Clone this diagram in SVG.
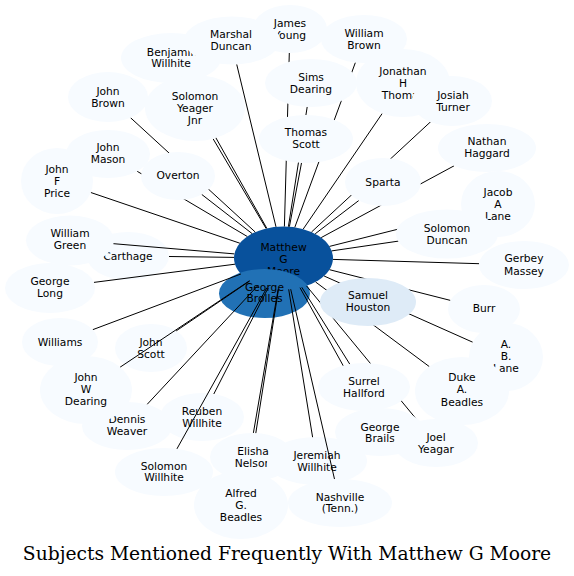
<svg xmlns="http://www.w3.org/2000/svg" width="574" height="576" viewBox="0 0 574 576">
<style>
.n{fill:#f7fbff;stroke:none}
.t{font-family:"DejaVu Sans",sans-serif;font-size:10.7px;fill:#000;text-anchor:middle}
.e line{stroke:#000;stroke-width:1}
.title{font-family:"DejaVu Serif",serif;font-size:18.7px;fill:#000;text-anchor:middle}
</style>
<rect width="574" height="576" fill="#fff"/>
<g id="n-matthew"><ellipse cx="283.5" cy="258" rx="49.5" ry="31.5" fill="#08519c"/><text class="t" x="283.5" y="251">Matthew</text><text class="t" x="283.5" y="263">G</text><text class="t" x="283.5" y="275">Moore</text></g>
<g id="n-george-brolles"><ellipse cx="264.5" cy="293.5" rx="45.5" ry="24.5" fill="#2171b5"/><text class="t" x="264.5" y="291">George</text><text class="t" x="264.5" y="302">Brolles</text></g>
<g id="n-carthage"><ellipse class="n" cx="128" cy="256" rx="41" ry="24"/><text class="t" x="128" y="260">Carthage</text></g>
<g id="n-john-scott"><ellipse class="n" cx="151" cy="348" rx="36" ry="24"/><text class="t" x="151" y="346">John</text><text class="t" x="151" y="358">Scott</text></g>
<g id="n-reuben-willhite"><ellipse class="n" cx="202" cy="417" rx="42" ry="24"/><text class="t" x="202" y="415">Reuben</text><text class="t" x="202" y="427">Willhite</text></g>
<g id="n-elisha-nelson"><ellipse class="n" cx="252" cy="457" rx="42" ry="24"/><text class="t" x="253" y="455">Elisha</text><text class="t" x="253" y="467">Nelson</text></g>
<g id="n-jeremiah-willhite"><ellipse class="n" cx="317" cy="461" rx="50" ry="24"/><text class="t" x="317" y="459">Jeremiah</text><text class="t" x="317" y="471">Willhite</text></g>
<g id="edges" class="e">
<line x1="284.4" y1="226.5" x2="289.3" y2="53.0"/>
<line x1="276.0" y1="226.9" x2="236.7" y2="64.3"/>
<line x1="294.8" y1="227.3" x2="355.4" y2="62.5"/>
<line x1="266.8" y1="228.3" x2="184.5" y2="82.1"/>
<line x1="288.4" y1="226.7" x2="307.2" y2="106.9"/>
<line x1="303.2" y1="229.1" x2="382.2" y2="113.5"/>
<line x1="266.1" y1="228.5" x2="213.1" y2="138.8"/>
<line x1="255.3" y1="232.1" x2="130.5" y2="117.7"/>
<line x1="311.5" y1="232.0" x2="431.0" y2="121.4"/>
<line x1="289.4" y1="226.7" x2="301.5" y2="162.9"/>
<line x1="321.2" y1="237.6" x2="454.1" y2="165.8"/>
<line x1="247.3" y1="236.5" x2="137.2" y2="171.3"/>
<line x1="252.1" y1="233.6" x2="201.7" y2="194.4"/>
<line x1="315.2" y1="233.8" x2="358.8" y2="200.5"/>
<line x1="239.8" y1="243.2" x2="90.8" y2="192.5"/>
<line x1="329.5" y1="246.4" x2="462.4" y2="213.0"/>
<line x1="331.7" y1="250.9" x2="398.5" y2="241.1"/>
<line x1="234.4" y1="253.9" x2="112.5" y2="243.6"/>
<line x1="234.0" y1="257.4" x2="169.0" y2="256.5"/>
<line x1="332.9" y1="259.4" x2="479.1" y2="263.7"/>
<line x1="235.0" y1="264.2" x2="93.9" y2="282.4"/>
<line x1="329.5" y1="269.7" x2="450.4" y2="300.4"/>
<line x1="240.9" y1="274.0" x2="92.7" y2="329.7"/>
<line x1="249.7" y1="281.0" x2="176.2" y2="330.9"/>
<line x1="324.1" y1="276.0" x2="472.7" y2="342.2"/>
<line x1="249.4" y1="280.8" x2="120.1" y2="367.2"/>
<line x1="301.8" y1="287.3" x2="349.8" y2="364.2"/>
<line x1="315.6" y1="282.0" x2="429.3" y2="366.6"/>
<line x1="268.1" y1="288.0" x2="213.8" y2="394.0"/>
<line x1="258.3" y1="285.1" x2="147.0" y2="404.5"/>
<line x1="300.0" y1="287.7" x2="367.2" y2="409.0"/>
<line x1="306.5" y1="285.9" x2="418.1" y2="421.3"/>
<line x1="278.5" y1="289.3" x2="255.8" y2="433.1"/>
<line x1="288.7" y1="289.3" x2="312.6" y2="437.2"/>
<line x1="266.9" y1="287.7" x2="176.9" y2="448.9"/>
<line x1="278.1" y1="289.3" x2="253.4" y2="432.9"/>
<line x1="290.7" y1="289.2" x2="334.5" y2="479.1"/>
</g>
<g id="n-james-young"><ellipse class="n" cx="290" cy="29" rx="37" ry="24"/><text class="t" x="290" y="27">James</text><text class="t" x="290" y="39">Young</text></g>
<g id="n-benjamin-willhite"><ellipse class="n" cx="171" cy="58" rx="50" ry="25"/><text class="t" x="172" y="56">Benjamin</text><text class="t" x="171" y="67">Willhite</text></g>
<g id="n-marshal-duncan"><ellipse class="n" cx="232" cy="40.5" rx="48" ry="24"/><text class="t" x="231" y="38">Marshal</text><text class="t" x="231" y="50">Duncan</text></g>
<g id="n-william-brown"><ellipse class="n" cx="364" cy="39" rx="43" ry="24"/><text class="t" x="364" y="37">William</text><text class="t" x="364" y="49">Brown</text></g>
<g id="n-sims-dearing"><ellipse class="n" cx="311" cy="83" rx="46" ry="24"/><text class="t" x="311" y="81">Sims</text><text class="t" x="311" y="93">Dearing</text></g>
<g id="n-thomas-scott"><ellipse class="n" cx="306" cy="139" rx="47" ry="24"/><text class="t" x="306" y="136">Thomas</text><text class="t" x="306" y="148">Scott</text></g>
<g id="n-jonathan-h-thomas"><ellipse class="n" cx="403" cy="83" rx="47" ry="34"/><text class="t" x="403" y="75">Jonathan</text><text class="t" x="403" y="87">H</text><text class="t" x="403" y="99">Thomas</text></g>
<g id="n-josiah-turner"><ellipse class="n" cx="452" cy="101" rx="40" ry="25"/><text class="t" x="453" y="99">Josiah</text><text class="t" x="453" y="111">Turner</text></g>
<g id="n-solomon-yeager-jnr"><ellipse class="n" cx="195" cy="108" rx="50" ry="33"/><text class="t" x="195" y="100">Solomon</text><text class="t" x="195" y="112">Yeager</text><text class="t" x="195" y="124">Jnr</text></g>
<g id="n-john-brown"><ellipse class="n" cx="108" cy="97" rx="40" ry="25"/><text class="t" x="108" y="95">John</text><text class="t" x="108" y="107">Brown</text></g>
<g id="n-nathan-haggard"><ellipse class="n" cx="487" cy="148" rx="49" ry="24"/><text class="t" x="487" y="145">Nathan</text><text class="t" x="487" y="157">Haggard</text></g>
<g id="n-john-mason"><ellipse class="n" cx="108" cy="154" rx="42" ry="24"/><text class="t" x="108" y="151">John</text><text class="t" x="108" y="163">Mason</text></g>
<g id="n-overton"><ellipse class="n" cx="178" cy="176" rx="37" ry="24"/><text class="t" x="178" y="179">Overton</text></g>
<g id="n-sparta"><ellipse class="n" cx="383" cy="182" rx="38" ry="24"/><text class="t" x="383" y="186">Sparta</text></g>
<g id="n-john-f-price"><ellipse class="n" cx="57" cy="181" rx="36" ry="33"/><text class="t" x="57" y="173">John</text><text class="t" x="57" y="185">F</text><text class="t" x="57" y="197">Price</text></g>
<g id="n-jacob-a-lane"><ellipse class="n" cx="498" cy="204" rx="37" ry="33"/><text class="t" x="498" y="196">Jacob</text><text class="t" x="498" y="208">A</text><text class="t" x="498" y="220">Lane</text></g>
<g id="n-solomon-duncan"><ellipse class="n" cx="447" cy="234" rx="51" ry="24.5"/><text class="t" x="447" y="232">Solomon</text><text class="t" x="447" y="244">Duncan</text></g>
<g id="n-william-green"><ellipse class="n" cx="70" cy="240.5" rx="44" ry="25"/><text class="t" x="70" y="237">William</text><text class="t" x="70" y="249">Green</text></g>
<g id="n-gerbey-massey"><ellipse class="n" cx="524" cy="265" rx="45" ry="24"/><text class="t" x="524" y="262">Gerbey</text><text class="t" x="524" y="275">Massey</text></g>
<g id="n-george-long"><ellipse class="n" cx="50" cy="288" rx="45" ry="25"/><text class="t" x="50" y="285">George</text><text class="t" x="50" y="297">Long</text></g>
<g id="n-burr"><ellipse class="n" cx="484" cy="309" rx="36" ry="24"/><text class="t" x="484" y="312">Burr</text></g>
<g id="n-samuel-houston"><ellipse cx="368" cy="302" rx="48" ry="24" fill="#deebf7"/><text class="t" x="368" y="299">Samuel</text><text class="t" x="368" y="311">Houston</text></g>
<g id="n-williams"><ellipse class="n" cx="60" cy="342" rx="38" ry="24"/><text class="t" x="60" y="346">Williams</text></g>
<g id="n-a-b-lane"><ellipse class="n" cx="506" cy="357" rx="37" ry="34"/><text class="t" x="506" y="348">A.</text><text class="t" x="506" y="360">B.</text><text class="t" x="506" y="372">Lane</text></g>
<g id="n-duke-a-beadles"><ellipse class="n" cx="462" cy="391" rx="47" ry="34"/><text class="t" x="462" y="381">Duke</text><text class="t" x="462" y="393">A.</text><text class="t" x="462" y="406">Beadles</text></g>
<g id="n-surrel-hallford"><ellipse class="n" cx="364" cy="387" rx="46" ry="24"/><text class="t" x="364" y="385">Surrel</text><text class="t" x="364" y="397">Hallford</text></g>
<g id="n-george-brails"><ellipse class="n" cx="380" cy="432" rx="45" ry="24"/><text class="t" x="380" y="431">George</text><text class="t" x="380" y="442">Brails</text></g>
<g id="n-joel-yeagar"><ellipse class="n" cx="436" cy="443" rx="42" ry="24"/><text class="t" x="436" y="441">Joel</text><text class="t" x="436" y="453">Yeagar</text></g>
<g id="n-dennis-weaver"><ellipse class="n" cx="127" cy="426" rx="45" ry="24"/><text class="t" x="127" y="423">Dennis</text><text class="t" x="127" y="435">Weaver</text></g>
<g id="n-john-w-dearing"><ellipse class="n" cx="86" cy="390" rx="46" ry="34"/><text class="t" x="86" y="381">John</text><text class="t" x="86" y="393">W</text><text class="t" x="86" y="405">Dearing</text></g>
<g id="n-solomon-willhite"><ellipse class="n" cx="164" cy="472" rx="49" ry="24"/><text class="t" x="164" y="470">Solomon</text><text class="t" x="164" y="481">Willhite</text></g>
<g id="n-alfred-g-beadles"><ellipse class="n" cx="241" cy="505" rx="47" ry="34"/><text class="t" x="241" y="497">Alfred</text><text class="t" x="241" y="509">G.</text><text class="t" x="241" y="521">Beadles</text></g>
<g id="n-nashville"><ellipse class="n" cx="340" cy="503" rx="52" ry="24"/><text class="t" x="340" y="501">Nashville</text><text class="t" x="340" y="512">(Tenn.)</text></g>
<text class="title" x="287" y="560">Subjects Mentioned Frequently With Matthew G Moore</text>
</svg>
